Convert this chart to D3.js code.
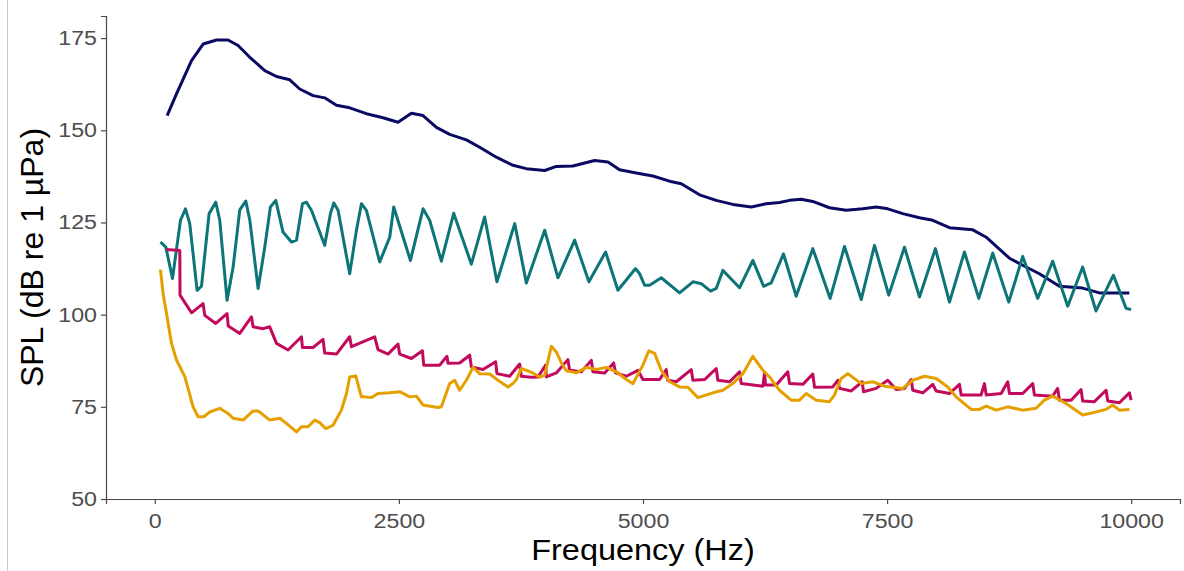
<!DOCTYPE html>
<html>
<head>
<meta charset="utf-8">
<script src="https://cdn.jsdelivr.net/npm/d3@7"></script>
<style>
  html, body { margin: 0; padding: 0; background: #fff; }
  svg { display: block; font-family: "Liberation Sans", Arial, sans-serif; }
</style>
</head>
<body>
<div id="chart"></div>
<script>
// ------------------------------------------------------------
// SPL spectra, four series
// each point: [frequency Hz, SPL dB re 1 µPa]
// ------------------------------------------------------------
const navySPL = [
  [126,154.0],[222,159.9],[376,168.9],[495,173.4],[632,174.5],[750,174.5],[853,173.0],[973,169.8],
  [1126,166.2],[1246,164.6],[1382,163.7],[1484,161.2],[1621,159.4],[1740,158.8],[1860,156.8],[1996,156.1],
  [2167,154.5],[2337,153.4],[2491,152.2],[2628,154.6],[2747,154.0],[2884,150.8],[3020,148.9],[3191,147.4],
  [3327,145.4],[3498,142.7],[3668,140.5],[3805,139.6],[3993,139.1],[4112,140.2],[4282,140.3],[4504,141.8],
  [4641,141.4],[4760,139.3],[4931,138.4],[5101,137.6],[5272,136.2],[5392,135.5],[5579,132.5],[5750,131.0],
  [5920,129.9],[6109,129.2],[6262,130.1],[6398,130.4],[6501,131.0],[6620,131.3],[6739,130.7],[6910,129.0],
  [7081,128.3],[7251,128.7],[7388,129.2],[7507,128.7],[7661,127.4],[7832,126.3],[7968,125.6],[8139,123.6],
  [8378,123.0],[8515,121.0],[8753,115.3],[8889,113.4],[9060,111.1],[9265,107.7],[9503,107.2],[9674,105.9],
  [9981,105.9]
];

const tealSPL = [
  [58,119.7],[113,118.3],[181,109.8],[263,125.6],[314,128.7],[358,124.7],[433,106.6],[478,107.7],
  [556,127.4],[624,130.5],[665,125.6],[740,103.9],[802,112.9],[870,128.4],[932,130.8],[973,125.6],
  [1058,107.1],[1126,118.3],[1184,129.2],[1239,131.0],[1313,122.4],[1399,119.7],[1451,120.2],[1512,130.1],
  [1553,130.5],[1604,128.3],[1740,118.8],[1799,127.4],[1833,130.3],[1877,128.3],[1996,111.1],[2065,122.9],
  [2116,130.1],[2167,128.3],[2303,114.3],[2406,121.0],[2447,129.2],[2618,114.7],[2747,128.7],[2815,125.6],
  [2935,114.5],[3061,127.5],[3242,113.7],[3378,126.5],[3504,108.9],[3686,124.7],[3805,108.6],[3993,122.9],
  [4129,110.0],[4300,120.2],[4446,108.9],[4617,117.0],[4743,106.6],[4924,112.5],[4965,111.1],[5016,108.0],
  [5068,108.0],[5187,110.0],[5375,105.9],[5511,108.9],[5597,108.4],[5692,106.4],[5750,107.1],[5818,112.0],
  [5989,107.3],[6125,114.7],[6235,107.7],[6313,108.6],[6439,116.5],[6569,105.0],[6739,117.9],[6917,104.4],
  [7064,118.5],[7235,104.1],[7371,118.8],[7517,105.3],[7678,118.3],[7832,104.8],[7995,117.9],[8139,103.4],
  [8292,117.0],[8439,104.4],[8582,116.7],[8746,103.4],[8889,115.8],[9043,104.4],[9196,114.5],[9350,102.3],
  [9503,112.9],[9640,101.0],[9818,110.7],[9948,101.7],[9999,101.4]
];

const pinkSPL = [
  [120,117.7],[256,117.4],[258,105.3],[376,100.5],[494,103.0],[512,99.8],[624,97.6],[740,100.3],
  [752,96.9],[870,94.9],[990,99.4],[1006,96.7],[1109,96.2],[1177,96.7],[1246,92.2],[1365,90.4],
  [1502,94.0],[1512,91.1],[1621,91.1],[1723,93.3],[1740,89.6],[1860,89.3],[1996,94.0],[2014,91.3],
  [2252,94.0],[2286,90.5],[2388,89.3],[2491,92.0],[2508,89.3],[2628,88.1],[2741,90.2],[2754,86.3],
  [2918,86.3],[2992,88.7],[3003,86.8],[3122,86.9],[3225,89.0],[3242,85.8],[3361,85.1],[3491,87.2],
  [3504,84.0],[3634,83.3],[3737,86.6],[3754,83.3],[3856,83.0],[3924,83.1],[4003,86.3],[4010,83.1],
  [4112,84.2],[4231,87.8],[4248,84.9],[4368,84.5],[4471,87.6],[4487,84.5],[4607,84.2],[4699,86.9],
  [4720,84.2],[4829,83.3],[4948,84.9],[4999,82.4],[5170,82.4],[5238,85.1],[5252,82.2],[5341,81.8],
  [5494,85.1],[5511,82.2],[5631,82.4],[5750,85.4],[5767,82.2],[5887,81.8],[5989,84.5],[6006,81.3],
  [6228,80.6],[6245,84.2],[6255,80.9],[6365,80.9],[6483,84.5],[6501,81.3],[6637,81.1],[6739,83.9],
  [6757,80.3],[6944,80.4],[6995,82.2],[7013,80.0],[7133,79.3],[7245,81.8],[7258,79.1],[7388,80.0],
  [7507,82.2],[7593,79.7],[7678,80.0],[7747,82.4],[7763,79.5],[7866,78.8],[7968,81.1],[8003,79.3],
  [8139,78.6],[8241,81.1],[8259,78.2],[8463,78.2],[8497,81.3],[8515,78.2],[8668,78.6],[8736,81.8],
  [8753,78.6],[8889,78.6],[8992,81.3],[9009,78.2],[9196,77.9],[9247,80.0],[9265,76.8],[9385,76.8],
  [9487,79.7],[9503,76.6],[9623,76.4],[9743,79.5],[9760,76.6],[9879,76.1],[9982,78.8],[9999,76.8]
];

const goldSPL = [
  [58,112.2],[85,105.7],[120,100.3],[171,92.2],[222,87.7],[307,83.2],[392,75.0],[443,72.3],
  [502,72.3],[563,73.6],[665,74.6],[750,73.2],[802,71.9],[904,71.4],[1006,73.9],[1058,73.9],
  [1177,71.4],[1280,71.9],[1348,70.5],[1451,68.2],[1502,69.6],[1569,69.6],[1638,71.4],[1689,70.7],
  [1751,69.1],[1825,70.0],[1911,74.1],[1963,78.6],[1996,83.1],[2058,83.4],[2116,77.7],[2150,77.7],
  [2218,77.5],[2286,78.6],[2406,78.8],[2508,79.1],[2611,77.7],[2679,77.9],[2747,75.5],[2900,74.8],
  [2935,75.0],[3020,81.3],[3071,82.2],[3122,79.5],[3191,82.2],[3259,85.7],[3327,84.0],[3430,83.9],
  [3515,82.2],[3617,80.4],[3668,81.3],[3703,82.4],[3754,85.4],[3873,84.2],[3941,83.0],[3993,83.6],
  [4061,91.4],[4112,89.9],[4164,86.9],[4215,84.8],[4317,84.2],[4420,85.7],[4522,85.1],[4624,85.7],
  [4727,84.5],[4829,82.4],[4897,81.3],[4999,86.3],[5060,90.2],[5119,89.5],[5187,84.9],[5272,81.8],
  [5375,80.4],[5460,80.3],[5562,77.5],[5716,78.8],[5818,79.5],[5920,81.3],[6023,84.0],[6125,88.7],
  [6228,84.9],[6296,83.1],[6398,79.5],[6518,76.8],[6603,76.8],[6672,78.6],[6774,76.8],[6910,76.4],
  [6961,78.2],[7030,82.7],[7098,84.0],[7235,81.3],[7354,81.8],[7473,80.6],[7661,80.0],[7763,82.2],
  [7883,83.3],[8003,82.7],[8122,80.4],[8207,77.7],[8361,74.3],[8446,74.3],[8515,75.2],[8617,74.1],
  [8736,75.0],[8889,74.1],[9026,74.6],[9111,76.8],[9196,77.9],[9333,75.9],[9503,72.8],[9606,73.4],
  [9743,74.3],[9811,75.5],[9879,74.1],[9982,74.3]
];

const xTicks = [0, 2500, 5000, 7500, 10000];
const yTicks = [50, 75, 100, 125, 150, 175];

const series = [
  { data: navySPL, color: '#0a0a62' },
  { data: tealSPL, color: '#0d7577' },
  { data: pinkSPL, color: '#c20a5c' },
  { data: goldSPL, color: '#e5a000' }
];

const W = 1184, H = 571;
const M = { left: 106, right: 4, top: 16, bottom: 72 };
const SX = 1.16; // tick labels in the source are drawn a bit wide

const svg = d3.select('#chart').append('svg').attr('width', W).attr('height', H);

// thin frame line on the left edge of the screenshot
svg.append('line').attr('x1', 7.5).attr('x2', 7.5).attr('y1', 0).attr('y2', H)
  .attr('stroke', '#c8c8c8').attr('stroke-width', 1);

const x = d3.scaleLinear().domain([-500, 10500]).range([M.left, W - M.right]);
const y = d3.scaleLinear().domain([50, 181]).range([H - M.bottom, M.top]);

// Axes (theme_classic look)
const xAxis = svg.append('g').attr('transform', `translate(0,${H - M.bottom})`)
  .call(d3.axisBottom(x).tickValues(xTicks).tickSize(5).tickPadding(6).tickFormat(d3.format('d')));
const yAxis = svg.append('g').attr('transform', `translate(${M.left},0)`)
  .call(d3.axisLeft(y).tickValues(yTicks).tickSize(5).tickPadding(4));

[xAxis, yAxis].forEach(a => {
  a.select('.domain').attr('stroke', '#4a4a4a').attr('stroke-width', 1.2);
  a.selectAll('.tick line').attr('stroke', '#4a4a4a').attr('stroke-width', 1.2);
  a.selectAll('.tick text').attr('fill', '#4d4d4d').attr('font-size', '20px')
    .attr('transform', `scale(${SX},1)`);
});
xAxis.selectAll('.tick text').attr('dy', '0.92em');
yAxis.selectAll('.tick text').attr('x', -9 / SX);

// Lines
const line = d3.line().x(d => x(d[0])).y(d => y(d[1]));
svg.append('g').selectAll('path').data(series).join('path')
  .attr('d', d => line(d.data))
  .attr('fill', 'none')
  .attr('stroke', d => d.color)
  .attr('stroke-width', 3)
  .attr('stroke-linejoin', 'round');

// Axis titles
svg.append('text')
  .attr('transform', `translate(${(M.left + W - M.right) / 2},560) scale(1.1,1)`)
  .attr('text-anchor', 'middle').attr('font-size', '29.5px').attr('fill', '#000')
  .text('Frequency (Hz)');

svg.append('text')
  .attr('transform', `translate(43,${(M.top + H - M.bottom) / 2}) rotate(-90)`)
  .attr('text-anchor', 'middle').attr('font-size', '32px').attr('fill', '#000')
  .text('SPL (dB re 1 µPa)');
</script>
</body>
</html>
